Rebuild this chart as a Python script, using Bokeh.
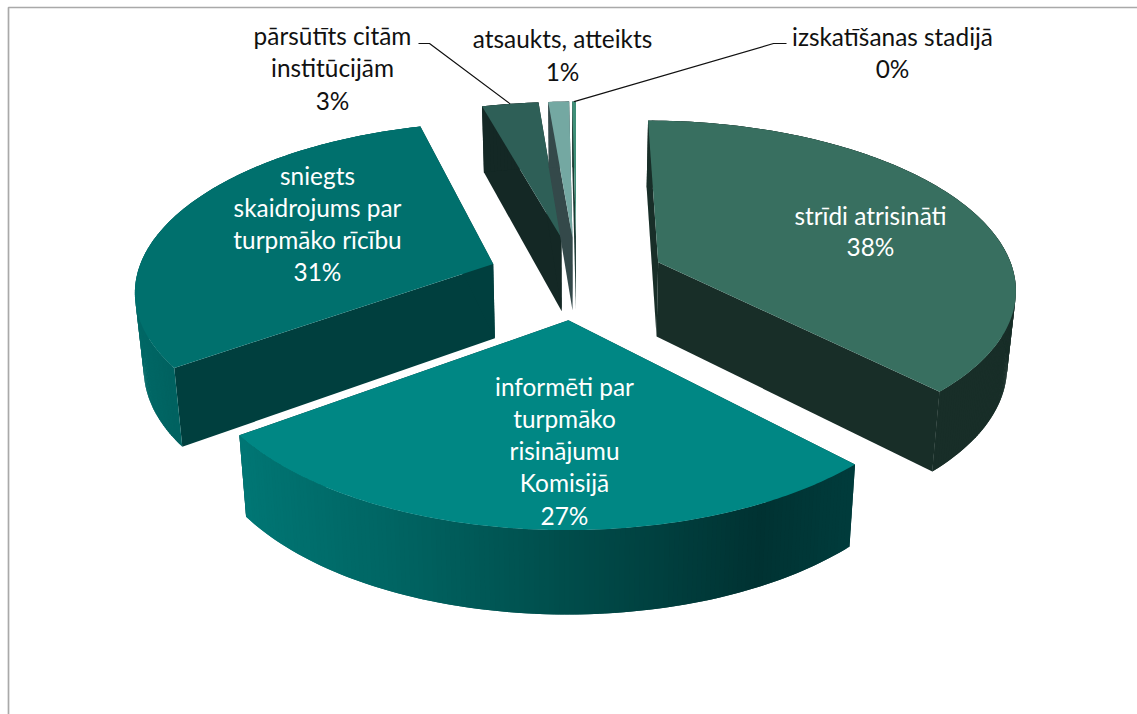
from math import sin, cos, radians

from bokeh.core.properties import value
from bokeh.embed import file_html
from bokeh.plotting import figure
from bokeh.resources import INLINE

# Share of each outcome, percent
categories = [
    "strīdi atrisināti",
    "informēti par turpmāko risinājumu Komisijā",
    "sniegts skaidrojums par turpmāko rīcību",
    "pārsūtīts citām institūcijām",
    "atsaukts, atteikts",
    "izskatīšanas stadijā",
]
shares = [37.8, 27.2, 30.7, 3.0, 1.1, 0.2]
label_lines = [
    ["strīdi atrisināti"],
    ["informēti par", "turpmāko", "risinājumu", "Komisijā"],
    ["sniegts", "skaidrojums par", "turpmāko rīcību"],
    ["pārsūtīts citām", "institūcijām"],
    ["atsaukts, atteikts"],
    ["izskatīšanas stadijā"],
]

# Top face, radial walls, and rim colour stops (screen x, colour) per slice
top_colors = ["#386f60", "#008784", "#00706d", "#2e5f57", "#74a8a2", "#3f8f78"]
wall_colors = ["#182e28", "#003a39", "#003f3e", "#142825", "#34494a", "#1c3a33"]
rim_stops = [
    [(0, (24, 46, 40)), (1137, (24, 46, 40))],
    [(245, (0, 118, 116)), (400, (0, 100, 98)), (560, (0, 78, 76)), (760, (0, 50, 50)), (855, (0, 60, 60))],
    [(130, (0, 106, 104)), (185, (0, 96, 94))],
    [(0, (20, 40, 37)), (1137, (20, 40, 37))],
    [(0, (52, 73, 74)), (1137, (52, 73, 74))],
    [(0, (28, 58, 51)), (1137, (28, 58, 51))],
]
draw_order = [3, 4, 5, 0, 2, 1]

# Projection of the tilted, exploded pie onto the page
CX, CY = 576.0, 277.0
RX, RY = 357.0, 166.0
PERSPECTIVE = 0.1435
EXPLODE = 0.25
BOTTOM_SHRINK = 0.98


def project(px, py):
    s = 1.0 / (1.0 - PERSPECTIVE * py)
    return CX + RX * px * s, CY + RY * py * s


def project_bottom(px, py):
    x, y = project(px, py)
    return CX + BOTTOM_SHRINK * (x - CX), y + 75.0 + 7.5 * py


def rim_color(stops, x):
    if x <= stops[0][0]:
        rgb = stops[0][1]
    elif x >= stops[-1][0]:
        rgb = stops[-1][1]
    else:
        for (x0, c0), (x1, c1) in zip(stops, stops[1:]):
            if x0 <= x <= x1:
                t = (x - x0) / (x1 - x0)
                rgb = tuple(a + (b - a) * t for a, b in zip(c0, c1))
                break
    return "#%02x%02x%02x" % tuple(int(round(v)) for v in rgb)


# Angular extent of each slice, clockwise from the top
total = sum(shares)
edges = [0.0]
for share in shares:
    edges.append(edges[-1] + 360.0 * share / total)

p = figure(
    width=1137,
    height=714,
    x_range=(0, 1137),
    y_range=(714, 0),
    output_backend="svg",
    toolbar_location=None,
    min_border=0,
    outline_line_color=None,
    background_fill_color="white",
)
p.axis.visible = False
p.grid.visible = False

# Outer frame of the chart area
p.line([8, 8, 1137], [714, 7, 7], line_color="#a9a9a9", line_width=1.7)

rim_anchor = {}
for i in draw_order:
    a0, a1 = radians(edges[i]), radians(edges[i + 1])
    mid = (a0 + a1) / 2
    ox, oy = EXPLODE * sin(mid), -EXPLODE * cos(mid)
    steps = max(3, int((edges[i + 1] - edges[i]) * 1.5))
    arc = [
        (ox + sin(a0 + (a1 - a0) * k / steps), oy - cos(a0 + (a1 - a0) * k / steps))
        for k in range(steps + 1)
    ]
    rim_anchor[i] = project(ox + sin(mid), oy - cos(mid))

    # Radial walls
    for end in (arc[0], arc[-1]):
        corners = [project(ox, oy), project(*end), project_bottom(*end), project_bottom(ox, oy)]
        p.patch(
            [c[0] for c in corners],
            [c[1] for c in corners],
            fill_color=wall_colors[i],
            line_color=None,
        )

    # Outer rim as narrow quads laid from the far end back, each one running
    # under its neighbour so that no seams open between them
    xs, ys, colors = [], [], []
    for k in range(len(arc) - 2, -1, -1):
        u0, v0 = arc[k]
        u1, v1 = arc[min(k + 2, len(arc) - 1)]
        corners = [project(u0, v0), project(u1, v1), project_bottom(u1, v1), project_bottom(u0, v0)]
        xs.append([c[0] for c in corners])
        ys.append([c[1] for c in corners])
        colors.append(rim_color(rim_stops[i], sum(c[0] for c in corners) / 4))
    p.patches(xs, ys, fill_color=colors, line_color=None)

    # Top face
    outline = [project(ox, oy)] + [project(u, v) for u, v in arc]
    p.patch(
        [c[0] for c in outline],
        [c[1] for c in outline],
        fill_color=top_colors[i],
        line_color=None,
    )

# Leader lines of the small outer labels
for i, (ex, ey), (kx, ky) in [(3, (418, 43), (429, 43)), (5, (786, 43), (773, 43))]:
    ax, ay = rim_anchor[i]
    p.line([ex, kx, ax], [ey, ky, ay], line_color="#111111", line_width=1.2)

# Label centre x and first-line y for each slice
label_x = [870, 564, 317, 332, 562, 892]
label_y = [214.5, 385.5, 174.5, 34.5, 37.5, 35.5]
label_step = [31, 32.3, 32.3, 32.5, 33, 32]
label_color = ["#ffffff", "#ffffff", "#ffffff", "#111111", "#111111", "#111111"]
for i, lines in enumerate(label_lines):
    rows = lines + [f"{round(shares[i])}%"]
    p.text(
        x=[label_x[i]] * len(rows),
        y=[label_y[i] + label_step[i] * k for k in range(len(rows))],
        text=rows,
        text_font=value("Lato"),
        text_font_size="24.4px",
        text_color=label_color[i],
        text_align="center",
        text_baseline="middle",
    )

open("out.html", "w").write(file_html(p, INLINE))
